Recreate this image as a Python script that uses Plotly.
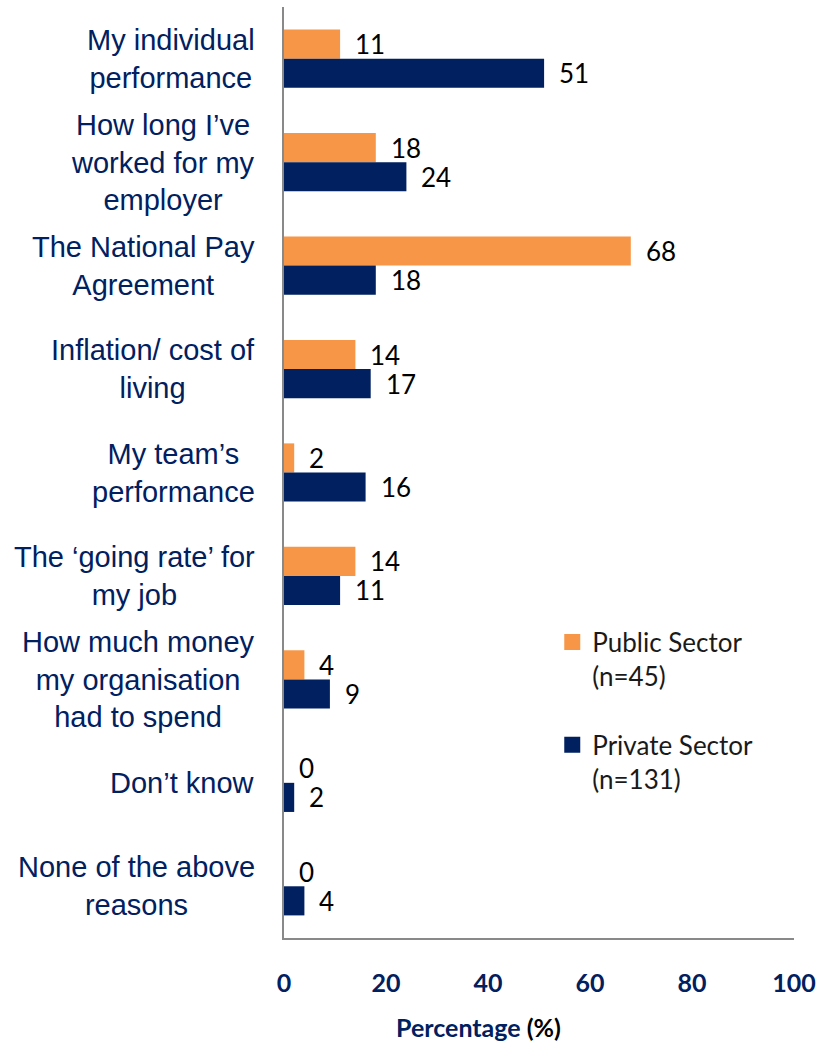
import plotly.graph_objects as go

# Reasons for pay award, by sector (percentage of respondents)
categories = [
    "My individual<br>performance",
    "How long I’ve<br>worked for my<br>employer",
    "The National Pay<br>Agreement",
    "Inflation/ cost of<br>living",
    "My team’s<br>performance",
    "The ‘going rate’ for<br>my job",
    "How much money<br>my organisation<br>had to spend",
    "Don’t know",
    "None of the above<br>reasons",
]
public_sector = [11, 18, 68, 14, 2, 14, 4, 0, 0]
private_sector = [51, 24, 18, 17, 16, 11, 9, 2, 4]

series_names = ["Public Sector<br>(n=45)", "Private Sector<br>(n=131)"]
x_ticks = [0, 20, 40, 60, 80, 100]

ORANGE = "#F79646"
NAVY = "#002060"
AXIS_GREY = "#898989"
NUM_FONT = "Lato"
LABEL_FONT = "Arial, Liberation Sans"

fig = go.Figure()

series = [(public_sector, ORANGE, series_names[0], "pub"),
          (private_sector, NAVY, series_names[1], "priv")]

for values, color, name, grp in series:
    fig.add_trace(go.Bar(
        x=values, y=categories, orientation="h",
        marker=dict(color=color, line=dict(width=0)),
        showlegend=False, hoverinfo="skip",
    ))

# Legend entries with larger square swatches
for values, color, name, grp in series:
    fig.add_trace(go.Scatter(
        x=[None], y=[None], mode="markers", name=name,
        legendgroup=grp,
        marker=dict(symbol="square", size=16, color=color),
    ))

annotations = []

# Category labels, centred text blocks right-aligned to the axis
for cat in categories:
    annotations.append(dict(
        x=0, xref="paper", y=cat, yref="y",
        xanchor="right", yanchor="middle", xshift=-27,
        text=cat, align="center", showarrow=False,
        font=dict(family=LABEL_FONT, size=29, color=NAVY),
    ))

# Value labels beside each bar
for values, shift in ((public_sector, 14.5), (private_sector, -14.5)):
    for cat, v in zip(categories, values):
        annotations.append(dict(
            x=v, xref="x", y=cat, yref="y",
            xanchor="left", yanchor="middle", xshift=13, yshift=shift,
            text=str(v), showarrow=False,
            font=dict(family=NUM_FONT, size=26, color="#000000"),
        ))

# Axis title
annotations.append(dict(
    x=0, xref="paper", y=0, yref="paper",
    xanchor="center", yanchor="middle", xshift=194, yshift=-89,
    text="<b>Percentage <span style='color:#000000'>(%)</span></b>",
    showarrow=False,
    font=dict(family=NUM_FONT, size=25, color=NAVY),
))

fig.update_layout(
    width=823, height=1043,
    margin=dict(l=284, r=24, t=7, b=105),
    paper_bgcolor="white", plot_bgcolor="white",
    barmode="group", bargap=0.437, bargroupgap=0,
    xaxis=dict(
        range=[0, 100], tickvals=x_ticks, showgrid=False, zeroline=False,
        showline=True, linecolor=AXIS_GREY, linewidth=2,
        ticks="", ticklabelstandoff=22,
        tickfont=dict(family=NUM_FONT, size=25, color=NAVY, weight="bold"),
    ),
    yaxis=dict(
        autorange="reversed", showticklabels=False, showgrid=False,
        zeroline=False, showline=True, linecolor=AXIS_GREY, linewidth=2,
        ticks="",
    ),
    legend=dict(
        x=0.526, xanchor="left", y=0.343, yanchor="top",
        valign="top", traceorder="grouped", tracegroupgap=32,
        font=dict(family=NUM_FONT, size=26, color="#1a1a1a"),
        bgcolor="rgba(0,0,0,0)",
    ),
    annotations=annotations,
)

fig.write_html("out.html")
